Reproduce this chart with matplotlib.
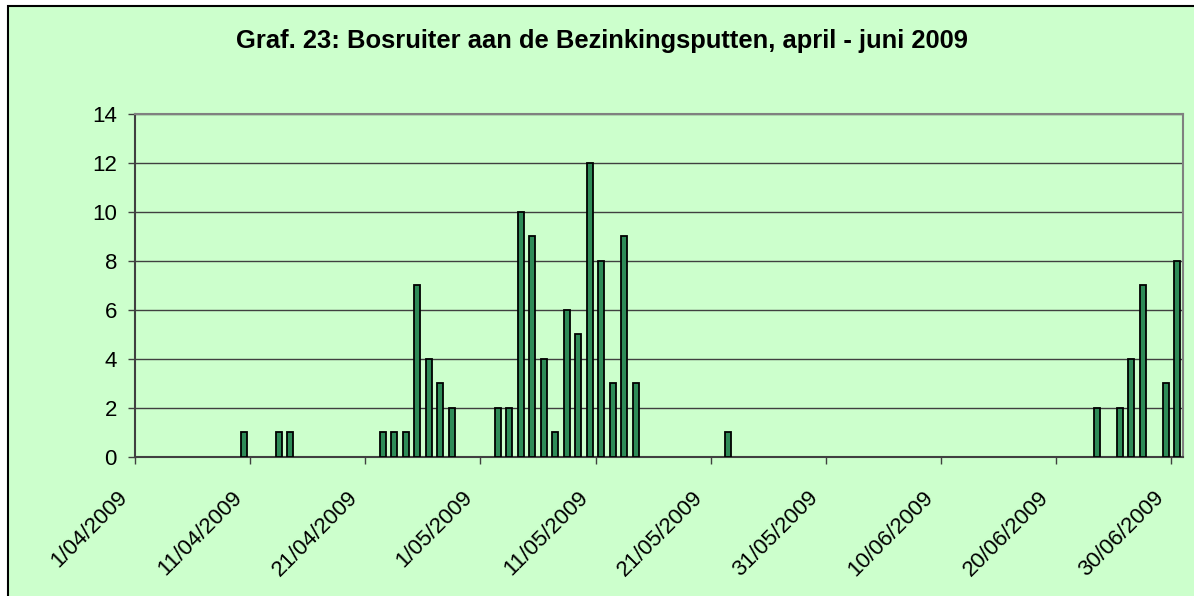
import matplotlib
matplotlib.use("Agg")
import matplotlib.pyplot as plt
import matplotlib.dates as mdates
from matplotlib.patches import Rectangle
from matplotlib.transforms import ScaledTranslation
import pandas as pd

plt.rcParams['font.family'] = ['Liberation Sans', 'DejaVu Sans']

# ---- data ----
dates = ["2009-04-10", "2009-04-13", "2009-04-14",
         "2009-04-22", "2009-04-23", "2009-04-24", "2009-04-25", "2009-04-26", "2009-04-27", "2009-04-28",
         "2009-05-02", "2009-05-03", "2009-05-04", "2009-05-05", "2009-05-06", "2009-05-07", "2009-05-08",
         "2009-05-09", "2009-05-10", "2009-05-11", "2009-05-12", "2009-05-13", "2009-05-14",
         "2009-05-22",
         "2009-06-23", "2009-06-25", "2009-06-26", "2009-06-27", "2009-06-29", "2009-06-30"]
counts = [1, 1, 1,
          1, 1, 1, 7, 4, 3, 2,
          2, 2, 10, 9, 4, 1, 6,
          5, 12, 8, 3, 9, 3,
          1,
          2, 2, 4, 7, 3, 8]
tick_dates = ["2009-04-01", "2009-04-11", "2009-04-21", "2009-05-01", "2009-05-11",
              "2009-05-21", "2009-05-31", "2009-06-10", "2009-06-20", "2009-06-30"]
tick_labels = ["1/04/2009", "11/04/2009", "21/04/2009", "1/05/2009", "11/05/2009",
               "21/05/2009", "31/05/2009", "10/06/2009", "20/06/2009", "30/06/2009"]
title = "Graf. 23: Bosruiter aan de Bezinkingsputten, april - juni 2009"
y_ticks = [0, 2, 4, 6, 8, 10, 12, 14]

W, H = 1194, 596
fig = plt.figure(figsize=(W / 100, H / 100), dpi=100)
fig.patch.set_facecolor("white")

bg = "#CCFFCC"
fig.patches.append(Rectangle((8 / W, -0.05), 1.2, 1 - 6 / H + 0.05,
                             transform=fig.transFigure, facecolor=bg,
                             edgecolor="black", linewidth=1.5, zorder=-10))

left, right, top, bottom = 135, 1183, 114, 456.7
ax = fig.add_axes([left / W, 1 - bottom / H, (right - left) / W, (bottom - top) / H])
ax.set_zorder(1)
ax.set_facecolor(bg)

x = pd.to_datetime(dates) + pd.Timedelta(hours=12)
ax.bar(x, counts, width=0.52, color="#2E8B57", edgecolor="black", linewidth=1.3, zorder=3)

ax.set_xlim(mdates.date2num(pd.Timestamp("2009-04-01")), mdates.date2num(pd.Timestamp("2009-07-01")))
ax.set_ylim(0, 14)
ax.set_yticks(y_ticks)
ax.set_yticklabels([str(v) for v in y_ticks])
ax.yaxis.grid(True, color="#404040", linewidth=1.0, zorder=1)
ax.set_axisbelow(True)

ax.set_xticks(mdates.date2num(pd.to_datetime(tick_dates)))
ax.set_xticklabels(tick_labels, rotation=45, ha="right", va="center", rotation_mode="anchor")

for s in ["left", "bottom"]:
    ax.spines[s].set_color("#404040")
    ax.spines[s].set_linewidth(1.5)
for s in ["top", "right"]:
    ax.spines[s].set_color("#808080")
    ax.spines[s].set_linewidth(1.5)

ax.tick_params(axis="y", length=5, width=1, color="#404040", pad=8, labelsize=16)
ax.tick_params(axis="x", length=5, width=1, color="#404040", pad=22, labelsize=16)

for lab in ax.get_xticklabels():
    lab.set_transform(lab.get_transform() + ScaledTranslation(-11 / 100, 0, fig.dpi_scale_trans))

fig.text(601.5 / W, 1 - 41 / H, title, ha="center", va="center",
         fontsize=18.4, fontweight="bold")

fig.savefig("out.png", dpi=100, facecolor=fig.get_facecolor())
